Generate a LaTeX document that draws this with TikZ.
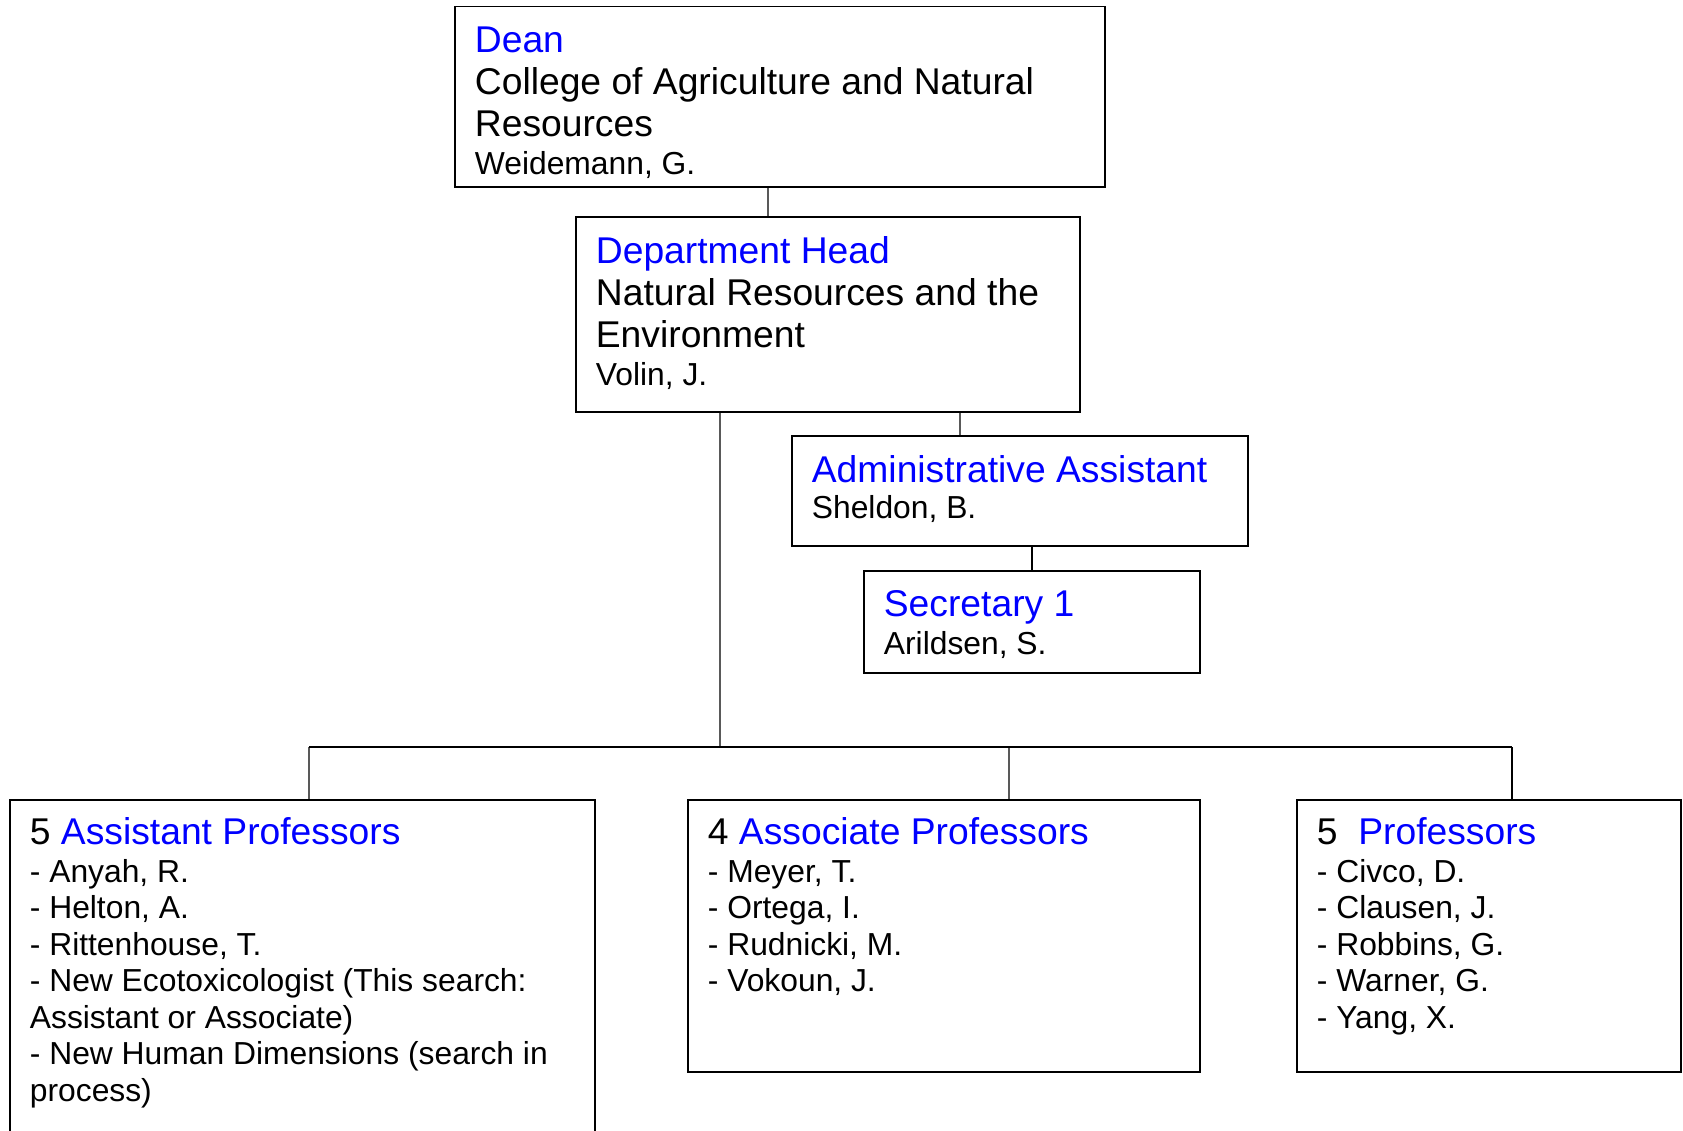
\documentclass[tikz,border=0pt]{standalone}
\usepackage{fontspec}
\setmainfont{Liberation Sans}
\usetikzlibrary{positioning}
\definecolor{titleblue}{RGB}{0, 0, 255}
\newcommand{\bigfont}{\fontsize{21.2}{24}\selectfont}
\newcommand{\namefont}{\fontsize{18.1}{20.75}\selectfont}

\begin{document}
\begin{tikzpicture}[
  post/.style={draw, line width=1.1pt, inner sep=0pt},
  txt/.style={inner sep=0pt, align=left},
  link/.style={line width=0.7pt},
]
  \useasboundingbox (0,0) rectangle (33.66,-22.6);

  % Top of the tree
  \node[post, minimum width=13cm, minimum height=3.61cm] (dean) at (15.6,-1.935) {};
  \node[txt, font=\bigfont, below right=0.42cm and 0.41cm of dean.north west] (deantxt)
    {{\color{titleblue}Dean}\\ College of Agriculture and Natural\\ Resources\\[-2.6pt] {\namefont Weidemann, G.}};

  \node[post, minimum width=10.08cm, minimum height=3.9cm] (dept) at (16.56,-6.29) {};
  \node[txt, font=\bigfont, below right=0.4cm and 0.41cm of dept.north west] (depttxt)
    {{\color{titleblue}Department Head}\\ Natural Resources and the\\ Environment\\[-2.6pt] {\namefont Volin, J.}};

  % Office staff
  \node[post, minimum width=9.12cm, minimum height=2.2cm] (admin) at (20.4,-9.82) {};
  \node[txt, font=\bigfont, below right=0.4cm and 0.41cm of admin.north west] (admintxt)
    {{\color{titleblue}Administrative Assistant}\\[-3.5pt] {\namefont Sheldon, B.}};

  \node[post, minimum width=6.72cm, minimum height=2.04cm] (sec) at (20.64,-12.44) {};
  \node[txt, font=\bigfont, below right=0.4cm and 0.41cm of sec.north west] (sectxt)
    {{\color{titleblue}Secretary 1}\\[-2.5pt] {\namefont Arildsen, S.}};

  % Faculty
  \node[post, minimum width=11.7cm, minimum height=7.5cm] (asst) at (6.05,-19.75) {};
  \node[txt, font=\namefont, below right=0.36cm and 0.41cm of asst.north west] (assttxt)
    {{\bigfont 5 {\color{titleblue}Assistant Professors}}\\[0.8pt]
     - Anyah, R.\\ - Helton, A.\\ - Rittenhouse, T.\\
     - New Ecotoxicologist (This search:\\ Assistant or Associate)\\
     - New Human Dimensions (search in\\ process)};

  \node[post, minimum width=10.24cm, minimum height=5.44cm] (assoc) at (18.88,-18.72) {};
  \node[txt, font=\namefont, below right=0.36cm and 0.41cm of assoc.north west] (assoctxt)
    {{\bigfont 4 {\color{titleblue}Associate Professors}}\\[0.8pt]
     - Meyer, T.\\ - Ortega, I.\\ - Rudnicki, M.\\ - Vokoun, J.};

  \node[post, minimum width=7.68cm, minimum height=5.44cm] (prof) at (29.78,-18.72) {};
  \node[txt, font=\namefont, below right=0.36cm and 0.41cm of prof.north west] (proftxt)
    {{\bigfont 5\ \ {\color{titleblue}Professors}}\\[0.8pt]
     - Civco, D.\\ - Clausen, J.\\ - Robbins, G.\\ - Warner, G.\\ - Yang, X.};

  % Connections
  \coordinate (bus) at (14.4,-14.94);
  \coordinate (b1) at (6.18,-14.94);
  \coordinate (b2) at (20.18,-14.94);
  \coordinate (b3) at (30.24,-14.94);
  \draw[link] ([xshift=-0.24cm]dean.south) -- ([xshift=-1.2cm]dept.north);
  \draw[link] ([xshift=2.64cm]dept.south) -- ([xshift=-1.2cm]admin.north);
  \draw[link] ([xshift=0.24cm]admin.south) -- (sec.north);
  \draw[link] ([xshift=-2.16cm]dept.south) -- (bus);
  \draw[link] (b1) -- (b3);
  \draw[link] (b1) -- ([xshift=0.13cm]asst.north);
  \draw[link] (b2) -- ([xshift=1.3cm]assoc.north);
  \draw[link] (b3) -- ([xshift=0.46cm]prof.north);

\end{tikzpicture}
\end{document}
